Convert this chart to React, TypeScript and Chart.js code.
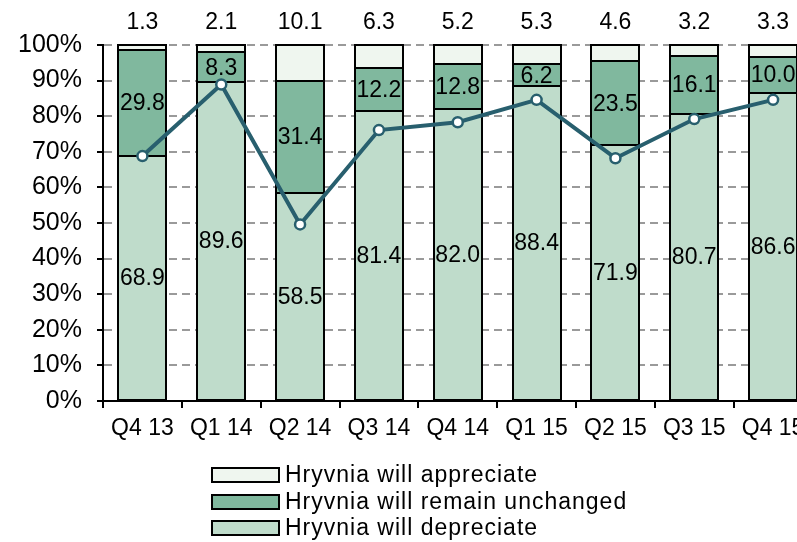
import React, { useEffect, useRef } from "react";
import { Chart, registerables } from "chart.js";

Chart.register(...registerables);

const categories = ["Q4 13", "Q1 14", "Q2 14", "Q3 14", "Q4 14", "Q1 15", "Q2 15", "Q3 15", "Q4 15"];
const depreciate = [68.9, 89.6, 58.5, 81.4, 82.0, 88.4, 71.9, 80.7, 86.6];
const unchanged = [29.8, 8.3, 31.4, 12.2, 12.8, 6.2, 23.5, 16.1, 10.0];
const appreciate = [1.3, 2.1, 10.1, 6.3, 5.2, 5.3, 4.6, 3.2, 3.3];
const balance = [68.8, 88.9, 49.6, 76.1, 78.3, 84.6, 68.2, 79.2, 84.6];
const seriesNames = ["Hryvnia will depreciate", "Hryvnia will remain unchanged", "Hryvnia will appreciate"];

const FONT = "'Liberation Sans', Arial, sans-serif";
const C_DEP = "#bfdccb";
const C_UNCH = "#80b89e";
const C_APP = "#eff6ef";
const C_LINE = "#285f6e";
const CANVAS_W = 820;

const borderPlugin = {
  id: "barBorders",
  afterDatasetDraw(chart: any, args: any) {
    const meta = args.meta;
    if (meta.type !== "bar") return;
    const ctx = chart.ctx;
    ctx.save();
    ctx.strokeStyle = "#000";
    ctx.lineWidth = 2;
    meta.data.forEach((el: any) => {
      const { x, y, base, width } = el.getProps(["x", "y", "base", "width"], true);
      const l = Math.round(x - width / 2);
      const r = Math.round(x + width / 2);
      const t = Math.round(Math.min(y, base));
      const b = Math.round(Math.max(y, base));
      ctx.strokeRect(l, t, r - l, b - t);
    });
    ctx.restore();
  },
};

const labelPlugin = {
  id: "valueLabels",
  afterDatasetsDraw(chart: any) {
    const ctx = chart.ctx;
    ctx.save();
    ctx.font = `23px ${FONT}`;
    ctx.fillStyle = "#000";
    ctx.textAlign = "center";
    ctx.textBaseline = "middle";
    [0, 1].forEach((di) => {
      const meta = chart.getDatasetMeta(di);
      meta.data.forEach((el: any, i: number) => {
        const { x, y, base } = el.getProps(["x", "y", "base"], true);
        const v = chart.data.datasets[di].data[i];
        ctx.fillText(Number(v).toFixed(1), x, (y + base) / 2 + 1);
      });
    });
    const meta2 = chart.getDatasetMeta(2);
    meta2.data.forEach((el: any, i: number) => {
      const v = chart.data.datasets[2].data[i];
      ctx.fillText(Number(v).toFixed(1), el.x, chart.chartArea.top - 22);
    });
    ctx.restore();
  },
};

const legendPlugin = {
  id: "stackLegend",
  afterDraw(chart: any) {
    const ctx = chart.ctx;
    ctx.save();
    const items = [
      { name: seriesNames[2], color: C_APP },
      { name: seriesNames[1], color: C_UNCH },
      { name: seriesNames[0], color: C_DEP },
    ];
    const centers = [475, 502, 528];
    items.forEach((it, k) => {
      const cy = centers[k];
      ctx.fillStyle = it.color;
      ctx.fillRect(212, cy - 7, 67, 14);
      ctx.strokeStyle = "#000";
      ctx.lineWidth = 2;
      ctx.strokeRect(212, cy - 7, 67, 14);
      ctx.fillStyle = "#000";
      ctx.font = `23px ${FONT}`;
      try {
        (ctx as any).letterSpacing = "1px";
      } catch (e) {}
      ctx.textAlign = "left";
      ctx.textBaseline = "middle";
      ctx.fillText(it.name, 285, cy + 1);
    });
    ctx.restore();
  },
};

const barCommon = {
  type: "bar" as const,
  borderWidth: 0,
  stack: "s",
  order: 1,
  barPercentage: 0.61,
  categoryPercentage: 1,
};

export default function App() {
  const ref = useRef<HTMLCanvasElement | null>(null);
  useEffect(() => {
    if (!ref.current) return;
    Chart.defaults.font.family = FONT;
    const chart = new Chart(ref.current, {
      type: "bar",
      data: {
        labels: categories,
        datasets: [
          { ...barCommon, label: seriesNames[0], data: depreciate, backgroundColor: C_DEP },
          { ...barCommon, label: seriesNames[1], data: unchanged, backgroundColor: C_UNCH },
          { ...barCommon, label: seriesNames[2], data: appreciate, backgroundColor: C_APP },
          {
            type: "line",
            label: "Balance",
            data: balance,
            borderColor: C_LINE,
            borderWidth: 4,
            pointRadius: 5,
            pointBorderWidth: 2.5,
            pointBackgroundColor: "#fff",
            pointBorderColor: C_LINE,
            tension: 0,
            stack: "line",
            order: 0,
          } as any,
        ],
      },
      options: {
        responsive: false,
        animation: false,
        layout: { padding: { top: 45, left: 0, right: 0, bottom: 0 } },
        plugins: {
          legend: { display: false },
          tooltip: { enabled: false },
        },
        scales: {
          x: {
            stacked: true,
            offset: true,
            grid: {
              offset: true,
              drawOnChartArea: false,
              drawTicks: true,
              tickLength: 7,
              color: "#000",
              lineWidth: 2,
            },
            border: { display: true, color: "#000", width: 2 },
            ticks: {
              color: "#000",
              font: { size: 23, family: FONT },
              padding: 7,
              maxRotation: 0,
              autoSkip: false,
            },
            afterFit: (s: any) => {
              s.height = 141;
            },
          },
          y: {
            stacked: true,
            min: 0,
            max: 100,
            grid: {
              color: "#9a9a9a",
              lineWidth: 2,
              drawTicks: true,
              tickLength: 6,
              tickColor: "#000",
              tickBorderDash: [],
              borderDash: [8, 5],
            } as any,
            border: { display: true, color: "#000", width: 2, dash: [8, 5] } as any,
            ticks: {
              stepSize: 10,
              color: "#000",
              font: { size: 25, family: FONT },
              padding: 15,
              callback: (v: any) => `${v}%`,
            },
            afterFit: (s: any) => {
              s.width = 103;
            },
          },
        },
      },
      plugins: [borderPlugin, labelPlugin, legendPlugin],
    });
    return () => chart.destroy();
  }, []);
  return (
    <div style={{ position: "absolute", left: 0, top: 0, width: CANVAS_W, height: 542, background: "#fff" }}>
      <canvas ref={ref} width={CANVAS_W} height={542} style={{ display: "block" }} />
    </div>
  );
}
